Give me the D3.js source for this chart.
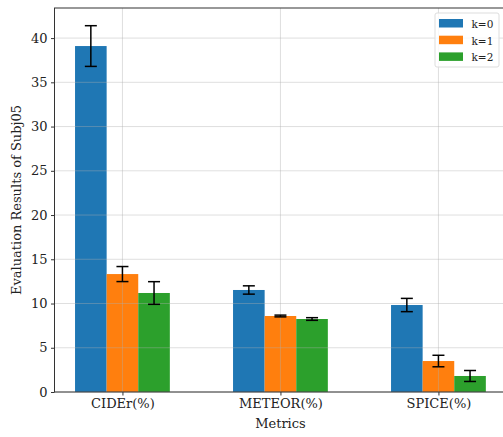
<!DOCTYPE html>
<html>
<head>
<meta charset="utf-8">
<script src="https://cdn.jsdelivr.net/npm/d3@7"></script>
<style>
  body { margin: 0; background: #fff; }
  svg text { font-family: "DejaVu Serif", serif; fill: #222; }
</style>
</head>
<body>
<div id="chart"></div>
<script>
// Data
const metrics = ['CIDEr(%)', 'METEOR(%)', 'SPICE(%)'];
const seriesNames = ['k=0', 'k=1', 'k=2'];
const seriesColors = ['#1f77b4', '#ff7f0e', '#2ca02c'];
const means = [
  [39.1, 11.53, 9.83],  // k=0
  [13.33, 8.59, 3.5],   // k=1
  [11.19, 8.25, 1.81]   // k=2
];
const errors = [
  [2.3, 0.47, 0.75],
  [0.85, 0.1, 0.65],
  [1.28, 0.15, 0.62]
];
const yTicks = [0, 5, 10, 15, 20, 25, 30, 35, 40];

const width = 503, height = 437;
const plotLeft = 54.5, plotTop = 8, plotBottom = 392;
const barW = 0.2;

const svg = d3.select('#chart').append('svg')
  .attr('width', width)
  .attr('height', height);

// x in category units, matplotlib-style margins
const x = d3.scaleLinear().domain([-0.43, 2.43]).range([plotLeft, plotLeft + 2.86 * 158]);
const y = d3.scaleLinear().domain([0, 43.4]).range([plotBottom, plotTop]);
const plotRight = x.range()[1];

// Bars
seriesNames.forEach((name, s) => {
  const off = (s - 1) * barW;
  svg.append('g').selectAll('rect')
    .data(means[s])
    .enter()
    .append('rect')
    .attr('x', (d, i) => x(i + off - barW / 2))
    .attr('width', x(barW) - x(0))
    .attr('y', d => y(d))
    .attr('height', d => y(0) - y(d))
    .attr('fill', seriesColors[s]);
});

// Grid (drawn over bars, semi-transparent)
const grid = svg.append('g')
  .attr('stroke', '#b0b0b0')
  .attr('stroke-opacity', 0.5)
  .attr('stroke-width', 0.8);
yTicks.forEach(t => {
  grid.append('line').attr('x1', plotLeft).attr('x2', plotRight)
    .attr('y1', y(t)).attr('y2', y(t));
});
metrics.forEach((m, i) => {
  grid.append('line').attr('x1', x(i)).attr('x2', x(i))
    .attr('y1', plotTop).attr('y2', plotBottom);
});

// Error bars
seriesNames.forEach((name, s) => {
  const off = (s - 1) * barW;
  const g = svg.append('g').attr('stroke', '#000').attr('stroke-width', 1.5);
  means[s].forEach((m, i) => {
    const cx = x(i + off);
    const lo = y(m - errors[s][i]), hi = y(m + errors[s][i]);
    g.append('line').attr('x1', cx).attr('x2', cx).attr('y1', lo).attr('y2', hi);
    g.append('line').attr('x1', cx - 6).attr('x2', cx + 6).attr('y1', lo).attr('y2', lo);
    g.append('line').attr('x1', cx - 6).attr('x2', cx + 6).attr('y1', hi).attr('y2', hi);
  });
});

// Axes
const yAxis = d3.axisLeft(y).tickValues(yTicks).tickSize(3.5).tickPadding(3.5);
svg.append('g').attr('transform', `translate(${plotLeft},0)`).call(yAxis)
  .call(g => g.select('.domain').remove())
  .call(g => g.selectAll('text').style('font-size', '13px'))
  .call(g => g.selectAll('line').attr('stroke', '#333'));

const xAxis = d3.axisBottom(x).tickValues([0, 1, 2]).tickFormat(i => metrics[i]).tickSize(3.5).tickPadding(3.5);
svg.append('g').attr('transform', `translate(0,${plotBottom})`).call(xAxis)
  .call(g => g.select('.domain').remove())
  .call(g => g.selectAll('text').style('font-size', '13px'))
  .call(g => g.selectAll('line').attr('stroke', '#333'));

// Spines
svg.append('rect')
  .attr('x', plotLeft).attr('y', plotTop)
  .attr('width', plotRight - plotLeft).attr('height', plotBottom - plotTop)
  .attr('fill', 'none').attr('stroke', '#333').attr('stroke-width', 1);

// Axis labels
svg.append('text')
  .attr('x', (plotLeft + plotRight) / 2).attr('y', 428)
  .attr('text-anchor', 'middle').style('font-size', '13px')
  .text('Metrics');
svg.append('text')
  .attr('transform', `translate(21,${(plotTop + plotBottom) / 2}) rotate(-90)`)
  .attr('text-anchor', 'middle').style('font-size', '13px')
  .text('Evaluation Results of Subj05');

// Legend
const legend = svg.append('g').attr('transform', 'translate(435,13)');
legend.append('rect')
  .attr('width', 64).attr('height', 54).attr('rx', 2)
  .attr('fill', '#fff').attr('fill-opacity', 0.8)
  .attr('stroke', '#ddd').attr('stroke-width', 1);
seriesNames.forEach((name, s) => {
  const row = legend.append('g').attr('transform', `translate(4,${6 + s * 16.7})`);
  row.append('rect').attr('width', 24).attr('height', 8.5).attr('fill', seriesColors[s]);
  row.append('text').attr('x', 32.5).attr('y', 9)
    .style('font-size', '10.5px').text(name);
});
</script>
</body>
</html>
